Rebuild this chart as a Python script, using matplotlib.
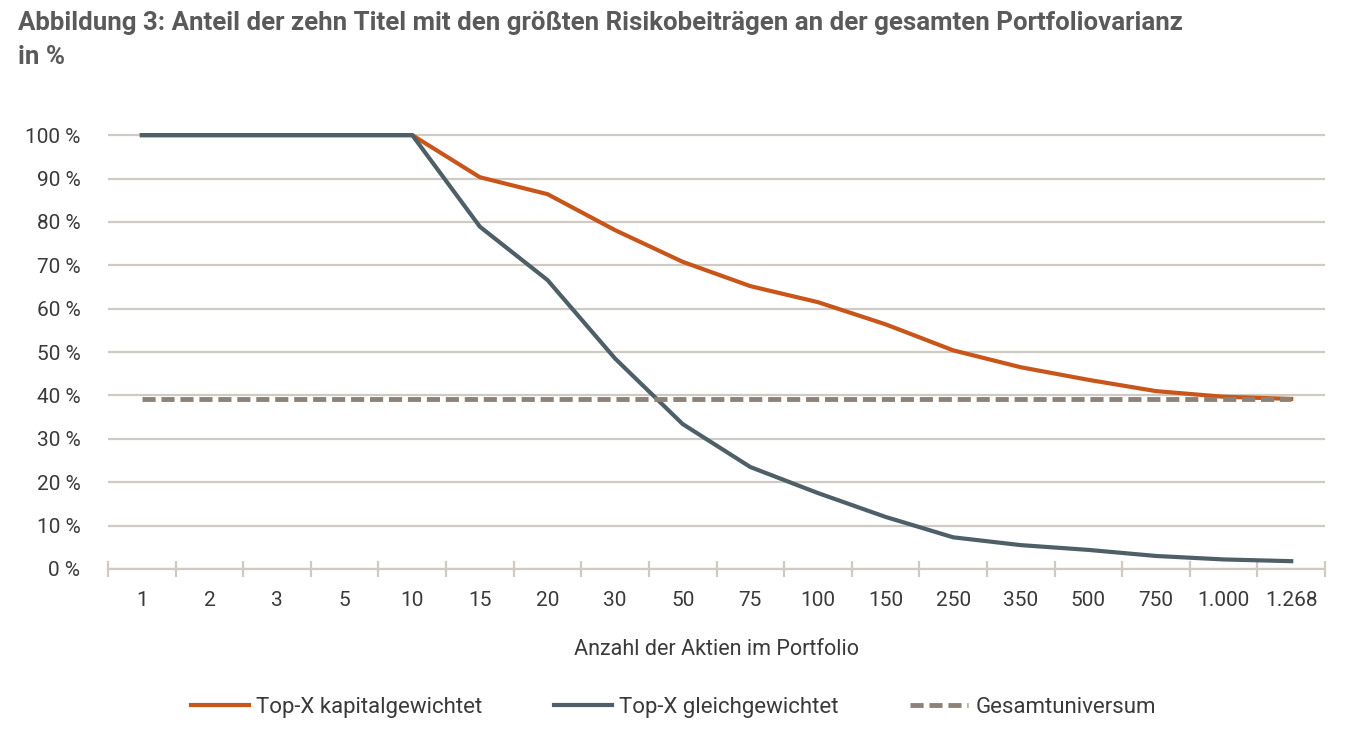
import matplotlib
matplotlib.use("Agg")
import matplotlib.pyplot as plt
import numpy as np

# Anzahl der Aktien im Portfolio (kategoriale Achse)
categories = ['1', '2', '3', '5', '10', '15', '20', '30', '50', '75',
              '100', '150', '250', '350', '500', '750', '1.000', '1.268']

# Anteil der zehn größten Risikobeiträge an der Portfoliovarianz in %
kapital = [100, 100, 100, 100, 100, 90.3, 86.4, 78.1, 70.8, 65.2,
           61.5, 56.4, 50.4, 46.5, 43.6, 41.0, 39.7, 39.2]
gleich = [100, 100, 100, 100, 100, 78.9, 66.6, 48.5, 33.4, 23.5,
          17.5, 12.0, 7.3, 5.5, 4.4, 3.0, 2.2, 1.8]
gesamt = [39.2] * len(categories)

yticks = [0, 10, 20, 30, 40, 50, 60, 70, 80, 90, 100]

c_orange = '#C8561A'
c_blue = '#4E5F68'
c_dash = '#8C8279'
c_grid = '#CFCBC4'
c_text = '#3A3A3A'

plt.rcParams['font.family'] = ['Roboto', 'DejaVu Sans']

fig = plt.figure(figsize=(13.47, 7.29), dpi=100)
ax = fig.add_axes([0.0802, 0.2195, 0.9035, 0.607])

x = np.arange(len(categories))
ax.plot(x, kapital, color=c_orange, lw=3.0, label='Top-X kapitalgewichtet', zorder=3, clip_on=False)
ax.plot(x, gleich, color=c_blue, lw=3.0, label='Top-X gleichgewichtet', zorder=4, clip_on=False)
ax.plot(x, gesamt, color=c_dash, lw=3.5, ls=(0, (2.7, 1.2)), label='Gesamtuniversum', zorder=5, clip_on=False)

ax.set_xlim(-0.5, len(categories) - 0.5)
ax.set_ylim(0, 102)
ax.set_yticks(yticks)
ax.set_yticklabels(['%d %%' % v for v in yticks])
ax.yaxis.grid(True, color=c_grid, lw=1.6)
ax.set_axisbelow(True)

ax.set_xticks(x)
ax.set_xticklabels(categories)
ax.set_xticks(np.arange(len(categories) + 1) - 0.5, minor=True)
ax.tick_params(axis='x', which='major', length=0, pad=16, labelsize=15, labelcolor=c_text)
ax.tick_params(axis='x', which='minor', length=11, width=1.6, color=c_grid, direction='inout')
ax.tick_params(axis='y', length=0, pad=20, labelsize=15, labelcolor=c_text)

for s in ['top', 'right', 'left']:
    ax.spines[s].set_visible(False)
ax.spines['bottom'].set_color(c_grid)
ax.spines['bottom'].set_linewidth(1.6)

ax.set_xlabel('Anzahl der Aktien im Portfolio', fontsize=15.5, color=c_text, labelpad=21)

fig.text(0.0134, 0.985, 'Abbildung 3: Anteil der zehn Titel mit den größten Risikobeiträgen an der gesamten Portfoliovarianz',
         fontsize=18.6, fontweight='bold', color='#5A5A5A', va='top')
fig.text(0.0134, 0.938, 'in %', fontsize=18.6, fontweight='bold', color='#5A5A5A', va='top')

ax.legend(loc='center', bbox_to_anchor=(0.5, 0.03), bbox_transform=fig.transFigure,
          ncol=3, frameon=False, fontsize=16, handlelength=2.6, handletextpad=0.35,
          columnspacing=3.2, labelcolor=c_text)

fig.savefig('out.png', dpi=100)
